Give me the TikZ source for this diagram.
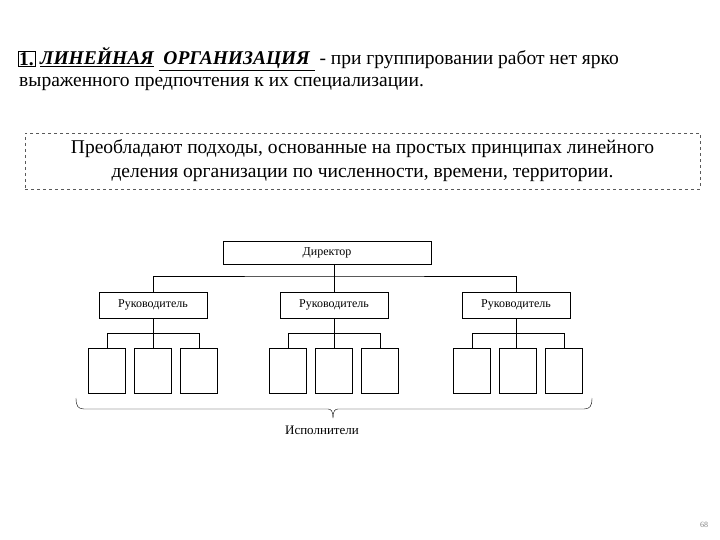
\documentclass[tikz,border=0pt]{standalone}
\usepackage{fontspec}
\setmainfont{Liberation Serif}
\usetikzlibrary{calc}
\begin{document}
\begin{tikzpicture}[x=1pt,y=-1pt,
  box/.style={draw,thick,minimum height=23pt,inner sep=0pt,font=\fontsize{12}{14}\selectfont},
  sm/.style={draw,thick,minimum width=37pt,minimum height=45pt,inner sep=0pt},
  ln/.style={thick}]
\useasboundingbox (0,0) rectangle (720,540);
% heading
\node[draw,inner sep=1pt,anchor=west,font=\fontsize{19.5}{22}\selectfont\bfseries] (num) at (18,59) {1.};
\node[anchor=west,font=\fontsize{19.5}{22}\selectfont,text width=655pt,align=justify,inner sep=0pt] (head) at (40,59)
 {\textbf{\textit{\underline{ЛИНЕЙНАЯ}\ \underline{\ ОРГАНИЗАЦИЯ\ }}} - при группировании работ нет ярко\hspace*{0pt}\par};
\node[anchor=west,font=\fontsize{19.5}{22}\selectfont,inner sep=0pt] (head2) at (19,84) {выраженного предпочтения к их специализации.};
% dashed box
\node[draw,dashed,thick,gray!70!black,minimum width=675pt,minimum height=56pt,text=black,align=center,font=\fontsize{19.5}{24}\selectfont] (note) at (362.5,161)
 {Преобладают подходы, основанные на простых принципах линейного\\деления организации по численности, времени, территории.};
% org chart
\node[box,minimum width=208pt] (dir) at (327,252.5) {Директор};
\node[box,minimum width=108pt,minimum height=26pt] (r1) at (153,305) {Руководитель};
\node[box,minimum width=108pt,minimum height=26pt] (r2) at (334,305) {Руководитель};
\node[box,minimum width=108pt,minimum height=26pt] (r3) at (516,305) {Руководитель};
\foreach \g/\b in {1/153, 2/334, 3/518}{
  \node[sm] (s\g a) at (\b-46,370.5) {};
  \node[sm] (s\g b) at (\b,370.5) {};
  \node[sm] (s\g c) at (\b+46,370.5) {};
}
\coordinate (h) at (334,276);
\draw[ln] (dir.south -| h) -- (h);
\draw[ln] (r1.north) |- (h) -| (r3.north);
\draw[ln] (h) -- (r2.north);
\foreach \g in {1,2,3}{
  \coordinate (m\g) at ($(r\g.south)+(0,15)$);
  \draw[ln] (r\g.south) -- (r\g.south |- s\g b.north);
  \draw[ln] (s\g a.north) |- (m\g) -| (s\g c.north);
}
% brace
\coordinate (bl) at (76,398);
\coordinate (br) at (592,398);
\coordinate (bm) at (333,418);
\draw (bl) .. controls (76,406) and (78,409) .. (84,409) -- (328,409) .. controls (331,409) and (333,411) .. (bm);
\draw (br) .. controls (592,406) and (590,409) .. (584,409) -- (338,409) .. controls (335,409) and (333,411) .. (bm);
\node[font=\fontsize{13}{15}\selectfont] (isp) at (322,430) {Исполнители};
\node[font=\fontsize{8}{10}\selectfont,text=gray] (pg) at (704,525) {68};
\end{tikzpicture}
\end{document}
